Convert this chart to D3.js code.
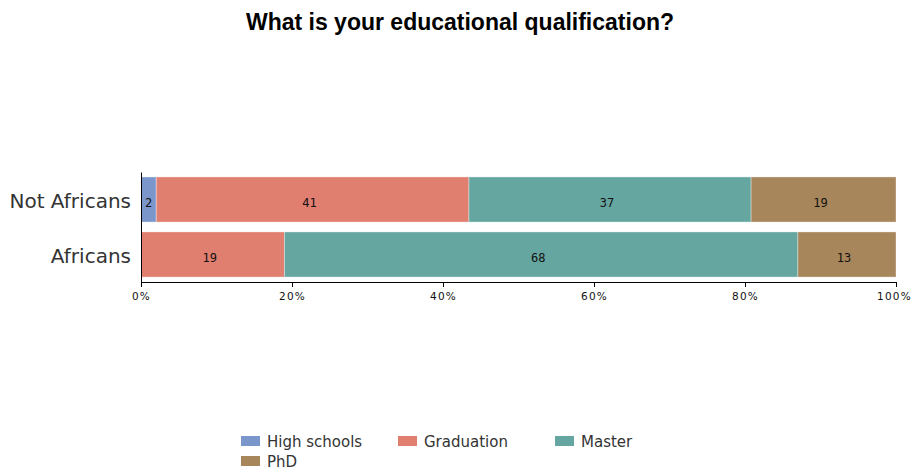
<!DOCTYPE html>
<html>
<head>
<meta charset="utf-8">
<script src="https://cdn.jsdelivr.net/npm/d3@7/dist/d3.min.js"></script>
<style>
  html, body { margin: 0; padding: 0; background: #fff; }
  svg { display: block; }
</style>
</head>
<body>
<svg id="chart" width="913" height="469"></svg>
<script>
// Survey answers by group, in counts per qualification
const groups = ["Not Africans", "Africans"];
const levels = ["High schools", "Graduation", "Master", "PhD"];
const highSchools = [2, 0];
const graduation = [41, 19];
const master = [37, 68];
const phd = [19, 13];
const xTicks = [0, 0.2, 0.4, 0.6, 0.8, 1];
const colors = ["#7b96cb", "#e07e6f", "#66a6a0", "#a8865b"];

const seriesValues = [highSchools, graduation, master, phd];

// One row per group, normalized so each bar fills 100%
const rows = groups.map((g, i) => {
  const row = { group: g };
  levels.forEach((l, k) => { row[l] = seriesValues[k][i]; });
  return row;
});

const stacked = d3.stack()
  .keys(levels)
  .offset(d3.stackOffsetExpand)(rows);

const svg = d3.select("#chart");

const x = d3.scaleLinear().domain([0, 1]).range([141, 896]);
const y = d3.scaleBand().domain(groups).range([172, 282])
  .paddingInner(0.18).paddingOuter(0.09);
const color = d3.scaleOrdinal().domain(levels).range(colors);

// Title
svg.append("text")
  .attr("x", 460).attr("y", 30)
  .attr("text-anchor", "middle")
  .style("font-family", "'Liberation Sans', Arial, sans-serif")
  .style("font-weight", "bold")
  .style("font-size", "23px")
  .attr("fill", "#000")
  .text("What is your educational qualification?");

// Stacked bars
const layer = svg.append("g").selectAll("g")
  .data(stacked)
  .join("g")
  .attr("fill", d => color(d.key));

layer.selectAll("rect")
  .data(d => d.map(p => ({ key: d.key, p })))
  .join("rect")
  .filter(d => d.p[1] - d.p[0] > 0)
  .attr("x", d => x(d.p[0]))
  .attr("y", d => y(d.p.data.group))
  .attr("width", d => x(d.p[1]) - x(d.p[0]))
  .attr("height", y.bandwidth())
  .attr("stroke", "rgba(255,255,255,0.35)")
  .attr("stroke-width", 1);

// Value labels in each segment
layer.selectAll("text")
  .data(d => d.map(p => ({ key: d.key, p })).filter(d => d.p.data[d.key] > 0))
  .join("text")
  .attr("x", d => {
    const w = x(d.p[1]) - x(d.p[0]);
    return (x(d.p[0]) + x(d.p[1])) / 2 - (w > 50 ? 3 : 0);
  })
  .attr("y", d => y(d.p.data.group) + y.bandwidth() / 2 + 7)
  .attr("text-anchor", "middle")
  .attr("fill", "#111")
  .style("font-family", "'DejaVu Sans Mono', monospace")
  .style("font-size", "12px")
  .text(d => d.p.data[d.key]);

// X axis
const xAxis = svg.append("g")
  .attr("transform", "translate(0,282)")
  .call(d3.axisBottom(x).tickValues(xTicks).tickFormat(d3.format(".0%")).tickSize(5).tickSizeOuter(0));
xAxis.select(".domain").attr("stroke", "#000");
xAxis.selectAll(".tick line").attr("stroke", "#000");
xAxis.selectAll(".tick text")
  .attr("y", 11)
  .attr("fill", "#111")
  .style("font-family", "'DejaVu Sans', sans-serif")
  .style("font-size", "10.5px")
  .style("letter-spacing", "1.2px");
xAxis.selectAll(".tick:last-of-type text").attr("dx", -2);

// Y axis
const yAxis = svg.append("g")
  .attr("transform", "translate(141,0)")
  .call(d3.axisLeft(y).tickSize(0).tickPadding(10));
yAxis.select(".domain").attr("stroke", "#000");
yAxis.selectAll(".tick text")
  .attr("fill", "#333")
  .attr("dy", "0.4em")
  .style("font-family", "'DejaVu Sans', sans-serif")
  .style("font-size", "20px");

// Legend
const legend = svg.append("g").selectAll("g")
  .data(levels)
  .join("g")
  .attr("transform", (d, i) => `translate(${241 + (i % 3) * 157},${436 + Math.floor(i / 3) * 20})`);
legend.append("rect")
  .attr("width", 19).attr("height", 10)
  .attr("fill", d => color(d));
legend.append("text")
  .attr("x", 26).attr("y", 10.5)
  .attr("fill", "#333")
  .style("font-family", "'DejaVu Sans', sans-serif")
  .style("font-size", "15px")
  .text(d => d);
</script>
</body>
</html>
